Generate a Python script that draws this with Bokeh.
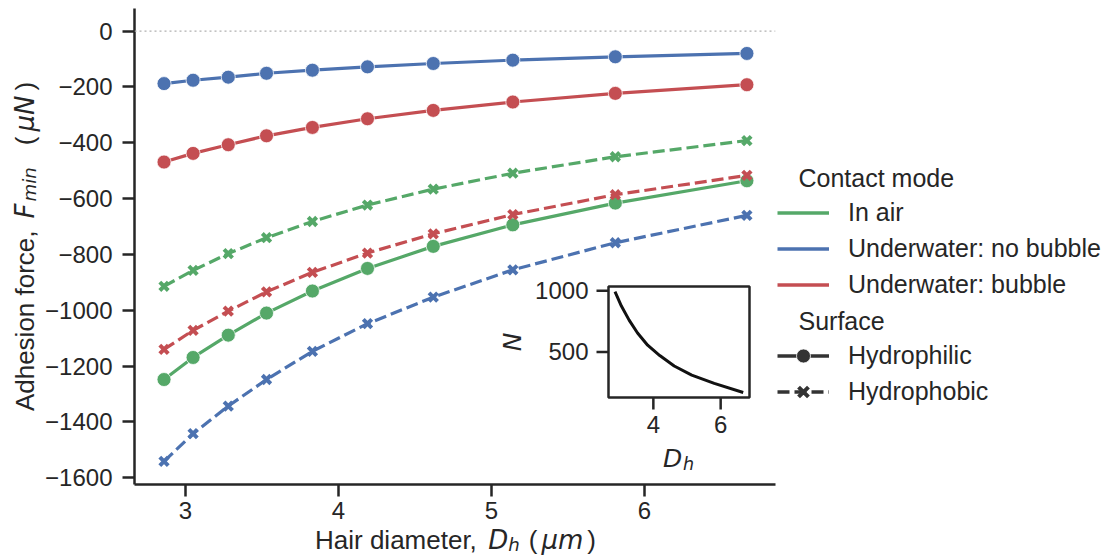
import math
from bokeh.plotting import figure
from bokeh.layouts import row, column
from bokeh.models import Range1d, FixedTicker, Span, Label, Legend, LegendItem
from bokeh.core.properties import value
from bokeh.embed import file_html
from bokeh.resources import INLINE

# ---------------- data ----------------
DH = [2.86, 3.05, 3.28, 3.53, 3.83, 4.19, 4.62, 5.14, 5.81, 6.67]
IN_AIR_PHILIC = [-1248, -1169, -1089, -1010, -931, -850, -771, -694, -616, -536]
IN_AIR_PHOBIC = [-914, -857, -797, -740, -682, -623, -566, -509, -450, -392]
NO_BUBBLE_PHILIC = [-188, -176, -165, -151, -140, -128, -116, -104, -92, -80]
NO_BUBBLE_PHOBIC = [-1541, -1442, -1343, -1248, -1147, -1048, -953, -855, -758, -660]
BUBBLE_PHILIC = [-469, -438, -407, -375, -345, -314, -284, -254, -223, -192]
BUBBLE_PHOBIC = [-1140, -1072, -1003, -934, -864, -795, -726, -657, -586, -517]
N_HAIRS = [993, 875, 760, 655, 555, 470, 385, 310, 243, 168]

MODES = ["In air", "Underwater: no bubble", "Underwater: bubble"]
SURFACES = ["Hydrophilic", "Hydrophobic"]
X_TICKS = [3, 4, 5, 6]
Y_TICKS = [0, -200, -400, -600, -800, -1000, -1200, -1400, -1600]
INSET_X_TICKS = [4, 6]
INSET_Y_TICKS = [500, 1000]

SERIES = [
    ("In air", "Hydrophilic", IN_AIR_PHILIC),
    ("In air", "Hydrophobic", IN_AIR_PHOBIC),
    ("Underwater: no bubble", "Hydrophilic", NO_BUBBLE_PHILIC),
    ("Underwater: no bubble", "Hydrophobic", NO_BUBBLE_PHOBIC),
    ("Underwater: bubble", "Hydrophilic", BUBBLE_PHILIC),
    ("Underwater: bubble", "Hydrophobic", BUBBLE_PHOBIC),
]

# ---------------- style / layout ----------------
FONT = "Liberation Sans"
MATH = "DejaVu Sans"
INK = "#262626"
GRAY = "#333333"
COLORS = {"In air": "#55A868", "Underwater: no bubble": "#4C72B0", "Underwater: bubble": "#C44E52"}
DASH = "12 5"
TICK_FS = "24px"
LAB_FS = 26

TOTAL_W, TOTAL_H = 1106, 559
FRAME_L, FRAME_T, FRAME_W, FRAME_H = 134, 8, 641, 476

X_LIM = (2.667, 6.857)
Y_LIM = (-1624, 81)
INSET_X_LIM = (2.667, 6.857)
INSET_Y_LIM = (127, 1035)
IN_L, IN_R, IN_T, IN_B = 474, 615, 278, 389   # inset box, px from frame left / frame top

# ---------------- main plot ----------------
p = figure(frame_width=FRAME_W, frame_height=FRAME_H,
           min_border_left=FRAME_L, min_border_right=TOTAL_W - FRAME_L - FRAME_W,
           min_border_top=FRAME_T, min_border_bottom=TOTAL_H - FRAME_T - FRAME_H,
           x_range=Range1d(*X_LIM), y_range=Range1d(*Y_LIM),
           output_backend="svg", toolbar_location=None)
p.outline_line_color = None
p.grid.visible = False
p.background_fill_alpha = 0
p.border_fill_alpha = 0

for ax in (p.xaxis[0], p.yaxis[0]):
    ax.axis_line_width = 2.5
    ax.axis_line_color = INK
    ax.major_tick_line_width = 2.5
    ax.major_tick_line_color = INK
    ax.major_tick_out = 12
    ax.major_tick_in = 0
    ax.minor_tick_line_color = None
    ax.major_label_text_font = FONT
    ax.major_label_text_font_size = TICK_FS
    ax.major_label_text_color = INK
p.xaxis.ticker = FixedTicker(ticks=X_TICKS)
p.yaxis.ticker = FixedTicker(ticks=Y_TICKS)
p.yaxis.major_label_overrides = {t: str(t).replace("-", "\u2212") for t in Y_TICKS}
p.xaxis.major_label_standoff = 5
p.yaxis.major_label_standoff = 10

p.add_layout(Span(location=0, dimension="width", line_color="#b0b0b0",
                  line_dash="2 3", line_width=1.3))

for mode, surface, vals in SERIES:
    c = COLORS[mode]
    if surface == "Hydrophilic":
        p.line(DH, vals, line_color=c, line_width=3.2)
        p.scatter(DH, vals, marker="circle", size=14, fill_color=c,
                  line_color="white", line_width=0.75)
    else:
        p.line(DH, vals, line_color=c, line_width=3.2, line_dash=DASH)
        p.scatter(DH, vals, marker="x", size=12, line_color=c, line_width=4)

# ---------------- inset (own ranges mapped onto a sub-box of the frame) ----------------
sx = (INSET_X_LIM[1] - INSET_X_LIM[0]) / (IN_R - IN_L)
sy = (INSET_Y_LIM[1] - INSET_Y_LIM[0]) / (IN_B - IN_T)
p.extra_x_ranges = {"ix": Range1d(INSET_X_LIM[0] - IN_L * sx, INSET_X_LIM[1] + (FRAME_W - IN_R) * sx)}
p.extra_y_ranges = {"iy": Range1d(INSET_Y_LIM[0] - (FRAME_H - IN_B) * sy, INSET_Y_LIM[1] + IN_T * sy)}
ik = dict(x_range_name="ix", y_range_name="iy")

p.quad(left=[INSET_X_LIM[0]], right=[INSET_X_LIM[1]], bottom=[INSET_Y_LIM[0]], top=[INSET_Y_LIM[1]],
       fill_color="white", line_color=INK, line_width=2.5, **ik)
p.line(DH, N_HAIRS, line_color="#111111", line_width=3, **ik)
p.ray(x=INSET_X_TICKS, y=[INSET_Y_LIM[0]] * len(INSET_X_TICKS), length=12, length_units="screen",
      angle=-math.pi / 2, line_color=INK, line_width=2.5, **ik)
p.ray(x=[INSET_X_LIM[0]] * len(INSET_Y_TICKS), y=INSET_Y_TICKS, length=12, length_units="screen",
      angle=math.pi, line_color=INK, line_width=2.5, **ik)
p.text(x=INSET_X_TICKS, y=[INSET_Y_LIM[0]] * len(INSET_X_TICKS), text=[str(t) for t in INSET_X_TICKS],
       y_offset=18, text_align="center", text_baseline="top", text_font=value(FONT),
       text_font_size=value(TICK_FS), text_color=INK, **ik)
p.text(x=[INSET_X_LIM[0]] * len(INSET_Y_TICKS), y=INSET_Y_TICKS, text=[str(t) for t in INSET_Y_TICKS],
       x_offset=-20, text_align="right", text_baseline="middle", text_font=value(FONT),
       text_font_size=value(TICK_FS), text_color=INK, **ik)
ymid = (INSET_Y_LIM[0] + INSET_Y_LIM[1]) / 2
xmid = (INSET_X_LIM[0] + INSET_X_LIM[1]) / 2
p.text(x=[INSET_X_LIM[0]], y=[ymid], text=["N"], x_offset=-96, angle=math.pi / 2,
       text_align="center", text_baseline="alphabetic", text_font=value(MATH),
       text_font_style="italic", text_font_size=value("25px"), text_color=INK, **ik)
p.text(x=[xmid], y=[INSET_Y_LIM[0]], text=["D"], x_offset=-16, y_offset=61,
       text_align="left", text_baseline="alphabetic", text_font=value(MATH),
       text_font_style="italic", text_font_size=value("25px"), text_color=INK, **ik)
p.text(x=[xmid], y=[INSET_Y_LIM[0]], text=["h"], x_offset=4, y_offset=66,
       text_align="left", text_baseline="alphabetic", text_font=value(MATH),
       text_font_style="italic", text_font_size=value("17.5px"), text_color=INK, **ik)

# ---------------- text layer (transparent, under the plot, full canvas frame) ----------------
bg = figure(width=TOTAL_W, height=TOTAL_H, x_range=Range1d(0, TOTAL_W), y_range=Range1d(0, TOTAL_H),
            x_axis_location=None, y_axis_location=None, min_border=0,
            min_border_left=0, min_border_right=0, min_border_top=0, min_border_bottom=0,
            output_backend="svg", toolbar_location=None)
bg.outline_line_color = None
bg.grid.visible = False
bg.background_fill_alpha = 0
bg.border_fill_alpha = 0

WIDTHS = {
    FONT: {"H": 722, "a": 556, "i": 222, "r": 333, " ": 278, "d": 556, "m": 833, "e": 556,
           "t": 278, ",": 278, "A": 667, "h": 556, "s": 500, "o": 556, "n": 556, "f": 278,
           "c": 500, "(": 333, ")": 333},
    MATH: {"D": 770, "h": 634, "\u03bc": 636, "m": 974, "F": 575, "i": 278, "n": 634, "N": 748},
}


def piece_w(text, font, size):
    return sum(WIDTHS[font].get(ch, 556) for ch in text) / 1000 * size


def styled_label(pieces, center, base, vertical=False):
    """center/base in page px (from the top-left corner)."""
    total = sum(g + piece_w(t, f, s) for t, f, st, s, dy, g in pieces)
    pos = -total / 2
    for t, f, st, s, dy, g in pieces:
        pos += g
        if not vertical:
            x, y, ang = center + pos, TOTAL_H - (base + dy), 0
        else:
            x, y, ang = base + dy, TOTAL_H - (center - pos), math.pi / 2
        bg.add_layout(Label(x=x, y=y, x_units="screen", y_units="screen", text=t, angle=ang,
                            text_font=f, text_font_style=st, text_font_size=f"{s}px",
                            text_color=INK, text_align="left", text_baseline="alphabetic"))
        pos += piece_w(t, f, s)


SUB = round(LAB_FS * 0.7, 1)
styled_label([
    ("Adhesion force,", FONT, "normal", LAB_FS, 0, 0),
    ("F", MATH, "italic", LAB_FS, 0, 12),
    ("min", MATH, "italic", SUB, 5, 2),
    ("(", FONT, "normal", LAB_FS, 0, 22),
    ("\u03bcN", MATH, "italic", LAB_FS, 0, 5),
    (")", FONT, "normal", LAB_FS, 0, 5),
], center=246, base=24, vertical=True)

styled_label([
    ("Hair diameter,", FONT, "normal", LAB_FS, 0, 0),
    ("D", MATH, "italic", LAB_FS, 0, 10),
    ("h", MATH, "italic", SUB, 5, 0),
    ("(", FONT, "normal", LAB_FS, 0, 9),
    ("\u03bcm", MATH, "italic", LAB_FS, 0, 4),
    (")", FONT, "normal", LAB_FS, 0, 4),
], center=455, base=539)

# ---------------- legends ----------------
NAN = [float("nan")]
LEG_STYLE = dict(border_line_alpha=0, background_fill_alpha=0, padding=0, margin=0, spacing=1,
                 glyph_width=52, glyph_height=35, label_height=35, label_standoff=19,
                 label_text_font=FONT, label_text_font_size="25px", label_text_color=INK,
                 label_text_baseline="middle")

mode_items = []
for m in MODES:
    r = bg.line(NAN, NAN, line_color=COLORS[m], line_width=3.5)
    mode_items.append(LegendItem(label=m, renderers=[r]))
s1 = bg.line(NAN, NAN, line_color=GRAY, line_width=3.5)
s1m = bg.scatter(NAN, NAN, marker="circle", size=15, fill_color=GRAY, line_color="white", line_width=0.75)
s2 = bg.line(NAN, NAN, line_color=GRAY, line_width=3.5, line_dash=DASH)
s2m = bg.scatter(NAN, NAN, marker="x", size=13, line_color=GRAY, line_width=4)
surf_items = [LegendItem(label=SURFACES[0], renderers=[s1, s1m]),
              LegendItem(label=SURFACES[1], renderers=[s2, s2m])]

bg.add_layout(Legend(items=mode_items, location=(777, TOTAL_H - 302), **LEG_STYLE))
bg.add_layout(Legend(items=surf_items, location=(777, TOTAL_H - 408.5), **LEG_STYLE))
for title, y_page in (("Contact mode", 177), ("Surface", 320)):
    bg.add_layout(Label(x=798, y=TOTAL_H - y_page, x_units="screen", y_units="screen",
                        text=title, text_font=FONT, text_font_size="25px", text_color=INK,
                        text_align="left", text_baseline="middle"))

# the plot sits in its own column (so the two canvases are not frame-aligned) and is
# pulled left over the transparent text layer
plot_box = column(p, spacing=0)
plot_box.margin = (0, 0, 0, -TOTAL_W)
layout = row(bg, plot_box, spacing=0)
open("out.html", "w").write(file_html(layout, INLINE))
